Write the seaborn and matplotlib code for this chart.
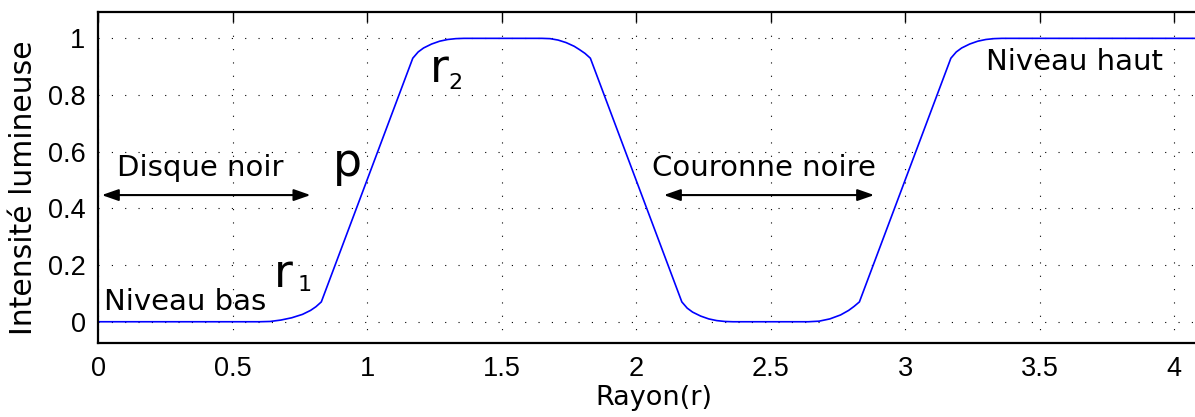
import matplotlib
matplotlib.use("Agg")
import matplotlib.pyplot as plt
import seaborn as sns
import pandas as pd

# ---- data ----
rayon = [0.00, 0.60, 0.64, 0.68, 0.72, 0.76, 0.79, 0.81, 0.83,
         1.17, 1.19, 1.21, 1.24, 1.27, 1.30, 1.33, 1.36,
         1.65, 1.68, 1.71, 1.74, 1.77, 1.79, 1.81, 1.83,
         2.17, 2.19, 2.21, 2.24, 2.27, 2.30, 2.33, 2.36,
         2.64, 2.68, 2.72, 2.76, 2.79, 2.81, 2.83,
         3.17, 3.19, 3.21, 3.24, 3.27, 3.30, 3.33, 3.36, 4.20]
intensite = [0.000, 0.000, 0.001, 0.006, 0.014, 0.026, 0.040, 0.053, 0.070,
             0.930, 0.952, 0.966, 0.980, 0.990, 0.996, 0.999, 1.000,
             1.000, 0.999, 0.994, 0.985, 0.972, 0.960, 0.947, 0.930,
             0.070, 0.048, 0.034, 0.020, 0.010, 0.004, 0.001, 0.000,
             0.000, 0.002, 0.010, 0.024, 0.040, 0.054, 0.070,
             0.930, 0.952, 0.966, 0.980, 0.990, 0.996, 0.999, 1.000, 1.000]

xticks = [0, 0.5, 1, 1.5, 2, 2.5, 3, 3.5, 4]
xticklabels = ["0", "0.5", "1", "1.5", "2", "2.5", "3", "3.5", "4"]
yticks = [0, 0.2, 0.4, 0.6, 0.8, 1]
yticklabels = ["0", "0.2", "0.4", "0.6", "0.8", "1"]

df = pd.DataFrame({"Rayon": rayon, "Intensite": intensite})

sns.set_theme(style="white")
plt.rcParams["font.family"] = ["DejaVu Sans"]
plt.rcParams["mathtext.default"] = "regular"

fig = plt.figure(figsize=(11.95, 4.17), dpi=100)
ax = fig.add_axes([98 / 1195, (417 - 343) / 417, 1130 / 1195, 331 / 417])

sns.lineplot(data=df, x="Rayon", y="Intensite", ax=ax, color="#0000ff",
             linewidth=1.2, estimator=None, sort=False)

ax.set_xlim(0, 4.2)
ax.set_ylim(-0.075, 1.093)
ax.set_xticks(xticks)
ax.set_xticklabels(xticklabels, family="Liberation Sans")
ax.set_yticks(yticks)
ax.set_yticklabels(yticklabels, family="Liberation Sans")
ax.tick_params(direction="in", top=True, right=True, length=7, width=1.0,
               labelsize=19.5, colors="black", pad=9)
for s in ax.spines.values():
    s.set_visible(True)
    s.set_linewidth(1.6)
    s.set_color("black")
ax.grid(True, linestyle=(0, (1, 11)), color="black", linewidth=0.8)

ax.set_xlabel("Rayon(r)", fontsize=19.5, color="black")
ax.set_ylabel("Intensité lumineuse", fontsize=21.5, color="black")
ax.xaxis.set_label_coords(0.492, -0.128)
ax.yaxis.set_label_coords(-0.053, 0.47)

# annotations
txt = dict(fontsize=21, color="black", va="baseline", ha="left")
ax.text(0.022, 0.041, "Niveau bas", **txt)
ax.text(0.071, 0.514, "Disque noir", **txt)
ax.text(2.06, 0.514, "Couronne noire", **txt)
ax.text(3.30, 0.888, "Niveau haut", **txt)

big = dict(fontsize=33, color="black", va="baseline", ha="left")
sub = dict(fontsize=16, color="black", va="baseline", ha="left")
ax.text(0.654, 0.123, "r", **big)
ax.text(0.740, 0.108, "1", **sub)
ax.text(0.874, 0.514, "p", **big)
ax.text(1.234, 0.847, "r", **big)
ax.text(1.302, 0.823, "2", **sub)

arrow = dict(arrowstyle="<|-|>,head_length=1.0,head_width=0.35",
             color="black", lw=1.5, mutation_scale=10, shrinkA=0, shrinkB=0)
ax.annotate("", xy=(0.79, 0.447), xytext=(0.014, 0.447), arrowprops=arrow)
ax.annotate("", xy=(2.885, 0.447), xytext=(2.103, 0.447), arrowprops=arrow)

fig.savefig("out.png", dpi=100)
